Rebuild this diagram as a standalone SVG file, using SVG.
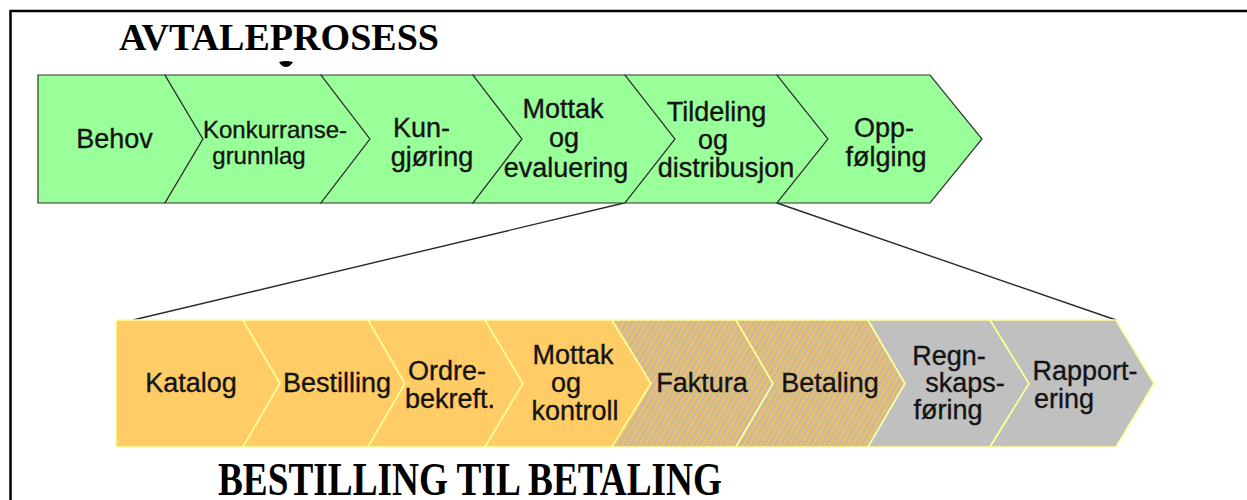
<svg xmlns="http://www.w3.org/2000/svg" width="1247" height="500" viewBox="0 0 1247 500">
  <defs>
    <pattern id="hatch" patternUnits="userSpaceOnUse" width="5" height="5" patternTransform="rotate(30)">
      <rect width="5" height="5" fill="#BDBAB4"/>
      <rect x="0" y="0" width="2.6" height="5" fill="#F4BE58"/>
    </pattern>
  </defs>
  <style>
    .g { fill: #99FF99; stroke: #333; stroke-width: 1.2; stroke-linejoin: miter; }
    .o { fill: #FFCC66; stroke: #FFFF99; stroke-width: 1.6; }
    .h { fill: url(#hatch); stroke: #FFFF99; stroke-width: 1.6; }
    .s { fill: #C0C0C0; stroke: #FFFF99; stroke-width: 1.6; }
    .t { font-family: "Liberation Sans", Arial, sans-serif; font-size: 27px; fill: #141414; stroke: #141414; stroke-width: 0.35; text-anchor: middle; }
    .title { font-family: "Liberation Serif", "Times New Roman", serif; font-weight: bold; fill: #000; }
    .conn { stroke: #2a2a2a; stroke-width: 1.4; fill: none; }
  </style>

  <rect x="10.5" y="11" width="1300" height="600" fill="#fff" stroke="#000" stroke-width="2.5"/>

  <text class="title" x="119" y="50" font-size="37" textLength="320" lengthAdjust="spacingAndGlyphs">AVTALEPROSESS</text>
  <path d="M279,62 Q286,60 293,62 Q290,67 286,67 Q282,67 279,62 Z" fill="#000"/>

  <g id="connectors">
    <line class="conn" x1="624" y1="203" x2="133" y2="320"/>
    <line class="conn" x1="777" y1="203" x2="1116" y2="320"/>
  </g>

  <g id="behov">
    <path class="g" d="M38,75 L165,75 L203,139 L165,203 L38,203 Z"/>
    <text class="t" x="114.5" y="148">Behov</text>
  </g>
  <g id="konkurransegrunnlag">
    <path class="g" d="M165,75 L321,75 L370,139 L321,203 L165,203 L203,139 Z"/>
    <text class="t" style="font-size:24px"><tspan x="275" y="138">Konkurranse-</tspan><tspan x="259" y="164">grunnlag</tspan></text>
  </g>
  <g id="kunngjoring">
    <path class="g" d="M321,75 L473,75 L522,139 L473,203 L321,203 L370,139 Z"/>
    <text class="t"><tspan x="421.5" y="137">Kun-</tspan><tspan x="432" y="166">gjøring</tspan></text>
  </g>
  <g id="mottak-evaluering">
    <path class="g" d="M473,75 L625,75 L675,139 L625,203 L473,203 L522,139 Z"/>
    <text class="t"><tspan x="563" y="118">Mottak</tspan><tspan x="564" y="147">og</tspan><tspan x="566" y="177">evaluering</tspan></text>
  </g>
  <g id="tildeling">
    <path class="g" d="M625,75 L777,75 L828,139 L777,203 L625,203 L675,139 Z"/>
    <text class="t"><tspan x="716.5" y="121">Tildeling</tspan><tspan x="713" y="149">og</tspan><tspan x="726" y="177">distribusjon</tspan></text>
  </g>
  <g id="oppfolging">
    <path class="g" d="M777,75 L930,75 L982,139 L930,203 L777,203 L828,139 Z"/>
    <text class="t"><tspan x="884" y="137">Opp-</tspan><tspan x="886" y="166">følging</tspan></text>
  </g>

  <g id="katalog">
    <path class="o" d="M116,320 L243,320 L280,383.5 L243,447 L116,447 Z"/>
    <text class="t" x="191" y="392">Katalog</text>
  </g>
  <g id="bestilling">
    <path class="o" d="M243,320 L368,320 L405,383.5 L368,447 L243,447 L280,383.5 Z"/>
    <text class="t" x="337" y="392">Bestilling</text>
  </g>
  <g id="ordrebekreft">
    <path class="o" d="M368,320 L485,320 L523,383.5 L485,447 L368,447 L405,383.5 Z"/>
    <text class="t"><tspan x="447" y="380">Ordre-</tspan><tspan x="450" y="408">bekreft.</tspan></text>
  </g>
  <g id="mottak-kontroll">
    <path class="o" d="M485,320 L612,320 L651,383.5 L612,447 L485,447 L523,383.5 Z"/>
    <text class="t"><tspan x="573" y="364">Mottak</tspan><tspan x="566" y="392">og</tspan><tspan x="575" y="420">kontroll</tspan></text>
  </g>
  <g id="faktura">
    <path class="h" d="M612,320 L736,320 L773,383.5 L736,447 L612,447 L651,383.5 Z"/>
    <text class="t" x="702" y="392">Faktura</text>
  </g>
  <g id="betaling">
    <path class="h" d="M736,320 L868,320 L905,383.5 L868,447 L736,447 L773,383.5 Z"/>
    <text class="t" x="830" y="392">Betaling</text>
  </g>
  <g id="regnskapsforing">
    <path class="s" d="M868,320 L990,320 L1029,383.5 L990,447 L868,447 L905,383.5 Z"/>
    <text class="t"><tspan x="949" y="365">Regn-</tspan><tspan x="965" y="392">skaps-</tspan><tspan x="948" y="419">føring</tspan></text>
  </g>
  <g id="rapportering">
    <path class="s" d="M990,320 L1116,320 L1154,383.5 L1116,447 L990,447 L1029,383.5 Z"/>
    <text class="t"><tspan x="1085" y="380">Rapport-</tspan><tspan x="1064" y="408">ering</tspan></text>
  </g>

  <text class="title" transform="translate(218,495) scale(1,1.25)" font-size="37" textLength="504" lengthAdjust="spacingAndGlyphs">BESTILLING TIL BETALING</text>
</svg>
